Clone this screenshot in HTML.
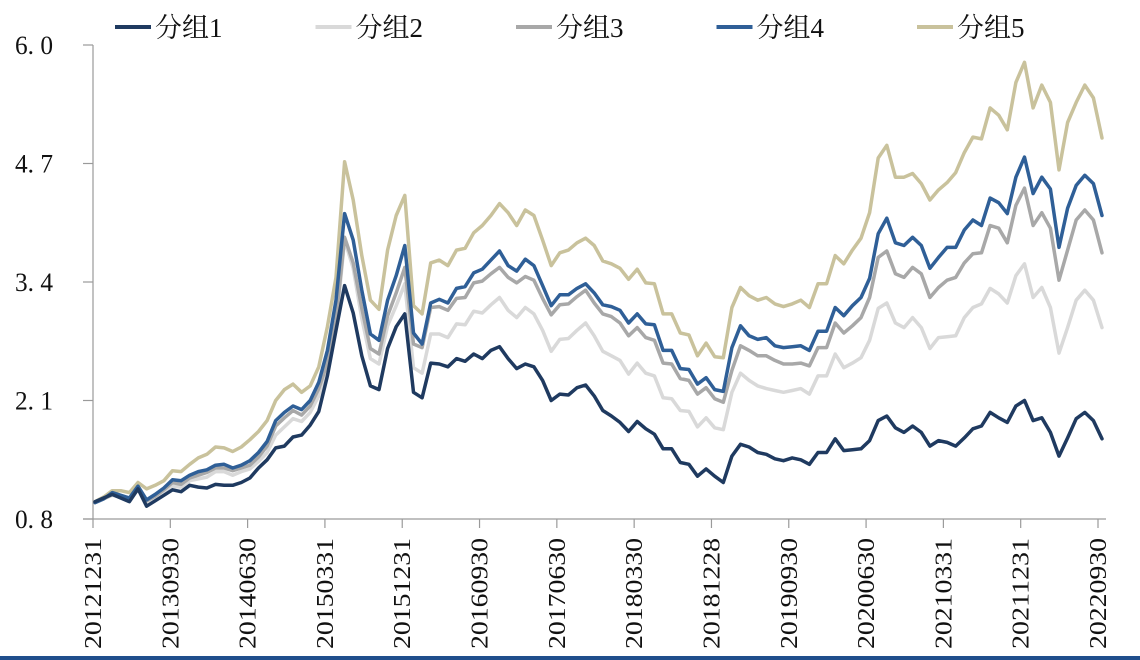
<!DOCTYPE html>
<html><head><meta charset="utf-8"><style>
html,body{margin:0;padding:0;background:#fff;}
svg{display:block;}
</style></head><body>
<svg id="chart" width="1140" height="660" viewBox="0 0 1140 660" xmlns="http://www.w3.org/2000/svg">
<rect x="0" y="0" width="1140" height="660" fill="#fff"/>
<line x1="0" y1="658" x2="1140" y2="658" stroke="#1f4e8c" stroke-width="4"/>
<g id="axes"></g>
<g id="series"></g>
<g id="legend"></g>
</svg>
<script>
const yTicks = [0.8, 2.1, 3.4, 4.7, 6.0];
const yTickLabels = ["0. 8", "2. 1", "3. 4", "4. 7", "6. 0"];
const xTickLabels = ["20121231","20130930","20140630","20150331","20151231","20160930","20170630","20180330","20181228","20190930","20200630","20210331","20211231","20220930"];
const seriesNames = ["分组1","分组2","分组3","分组4","分组5"];
const group1 = [0.99,1.03,1.07,1.03,0.99,1.13,0.94,1.00,1.06,1.12,1.10,1.17,1.15,1.14,1.18,1.17,1.17,1.20,1.25,1.36,1.45,1.58,1.60,1.70,1.72,1.83,1.98,2.37,2.87,3.36,3.06,2.59,2.26,2.22,2.67,2.91,3.05,2.19,2.13,2.51,2.50,2.47,2.56,2.53,2.61,2.56,2.65,2.69,2.56,2.45,2.50,2.47,2.32,2.10,2.17,2.16,2.24,2.27,2.15,1.99,1.93,1.86,1.76,1.87,1.79,1.73,1.57,1.57,1.42,1.40,1.27,1.35,1.27,1.20,1.49,1.62,1.59,1.53,1.51,1.46,1.44,1.47,1.45,1.40,1.53,1.53,1.68,1.55,1.56,1.57,1.66,1.88,1.93,1.80,1.75,1.82,1.75,1.60,1.66,1.64,1.60,1.69,1.79,1.82,1.97,1.91,1.86,2.04,2.10,1.88,1.91,1.75,1.49,1.69,1.90,1.97,1.88,1.68];
const group2 = [0.98,1.02,1.06,1.04,1.01,1.12,0.98,1.03,1.10,1.16,1.15,1.22,1.24,1.26,1.32,1.32,1.28,1.32,1.35,1.43,1.53,1.72,1.81,1.90,1.87,1.97,2.15,2.45,2.92,3.86,3.55,3.00,2.56,2.50,2.92,3.14,3.38,2.46,2.40,2.83,2.83,2.79,2.94,2.93,3.08,3.06,3.15,3.23,3.09,3.01,3.12,3.05,2.87,2.64,2.77,2.78,2.87,2.95,2.81,2.64,2.59,2.54,2.39,2.51,2.40,2.37,2.13,2.12,1.99,1.98,1.81,1.91,1.80,1.78,2.19,2.40,2.32,2.26,2.23,2.21,2.19,2.21,2.23,2.17,2.37,2.37,2.61,2.46,2.51,2.57,2.76,3.11,3.17,2.95,2.90,3.01,2.90,2.67,2.79,2.80,2.81,3.01,3.12,3.16,3.33,3.27,3.17,3.47,3.60,3.23,3.34,3.12,2.62,2.90,3.20,3.31,3.20,2.90];
const group3 = [0.98,1.02,1.07,1.05,1.02,1.14,1.00,1.05,1.12,1.20,1.18,1.25,1.28,1.31,1.36,1.36,1.33,1.36,1.39,1.48,1.60,1.82,1.91,1.99,1.94,2.04,2.23,2.51,2.98,3.89,3.61,3.11,2.67,2.61,3.03,3.28,3.56,2.72,2.68,3.12,3.13,3.09,3.22,3.23,3.39,3.41,3.49,3.56,3.45,3.39,3.46,3.42,3.22,3.04,3.15,3.16,3.24,3.31,3.17,3.05,3.02,2.95,2.81,2.90,2.79,2.76,2.51,2.50,2.34,2.32,2.17,2.24,2.12,2.08,2.43,2.70,2.65,2.59,2.59,2.54,2.50,2.50,2.51,2.48,2.68,2.68,2.95,2.84,2.92,3.01,3.23,3.67,3.74,3.49,3.45,3.56,3.49,3.23,3.34,3.42,3.45,3.61,3.71,3.72,4.02,3.99,3.83,4.24,4.43,4.02,4.16,3.99,3.42,3.75,4.08,4.19,4.08,3.72];
const group4 = [0.98,1.02,1.09,1.06,1.03,1.16,1.01,1.07,1.14,1.23,1.22,1.28,1.32,1.34,1.39,1.40,1.36,1.39,1.44,1.53,1.65,1.88,1.97,2.04,2.00,2.10,2.30,2.65,3.20,4.15,3.86,3.31,2.83,2.76,3.20,3.47,3.80,2.84,2.72,3.17,3.21,3.17,3.33,3.35,3.50,3.54,3.64,3.74,3.58,3.52,3.65,3.58,3.36,3.14,3.26,3.26,3.33,3.38,3.28,3.15,3.13,3.09,2.95,3.05,2.94,2.93,2.65,2.65,2.45,2.44,2.28,2.35,2.22,2.20,2.68,2.92,2.81,2.77,2.79,2.70,2.68,2.69,2.70,2.65,2.86,2.86,3.12,3.03,3.14,3.23,3.44,3.93,4.10,3.83,3.80,3.89,3.80,3.55,3.67,3.78,3.78,3.97,4.08,4.02,4.32,4.27,4.15,4.55,4.77,4.37,4.55,4.42,3.78,4.21,4.46,4.57,4.48,4.13];
const group5 = [0.99,1.04,1.11,1.11,1.09,1.20,1.13,1.17,1.22,1.33,1.32,1.40,1.47,1.51,1.59,1.58,1.54,1.59,1.67,1.76,1.88,2.10,2.22,2.28,2.19,2.26,2.47,2.91,3.45,4.72,4.30,3.69,3.20,3.10,3.75,4.13,4.35,3.14,3.05,3.61,3.64,3.58,3.75,3.77,3.94,4.02,4.13,4.26,4.16,4.02,4.19,4.13,3.86,3.58,3.72,3.75,3.83,3.88,3.80,3.63,3.60,3.55,3.43,3.54,3.39,3.38,3.05,3.05,2.84,2.82,2.59,2.73,2.58,2.57,3.12,3.34,3.25,3.20,3.23,3.16,3.13,3.16,3.20,3.12,3.38,3.38,3.69,3.60,3.75,3.88,4.16,4.76,4.90,4.55,4.55,4.59,4.48,4.30,4.41,4.49,4.60,4.82,4.99,4.97,5.31,5.23,5.07,5.59,5.81,5.31,5.56,5.37,4.63,5.15,5.37,5.56,5.42,4.98];

const NS = "http://www.w3.org/2000/svg";
const X0 = 93, XT = 1098, YMIN = 0.8, YMAX = 6.0, PY0 = 519, PY1 = 45;
const nMonths = group1.length - 1;
function xPos(i){ return 95 + i * (1102 - 95) / nMonths; }
function xTick(k){ return X0 + k * (XT - X0) / (xTickLabels.length - 1); }
function yPos(v){ return PY0 - (v - YMIN) / (YMAX - YMIN) * (PY0 - PY1); }
function mk(tag, attrs, parent){ const e = document.createElementNS(NS, tag); for (const k in attrs) e.setAttribute(k, attrs[k]); parent.appendChild(e); return e; }

const axes = document.getElementById('axes');
let l = mk('line', {x1:X0, y1:PY1, x2:X0, y2:PY0, stroke:'#9a9a9a', 'stroke-width':1.2}, axes);


l = mk('line', {x1:83, y1:PY0, x2:1106, y2:PY0, stroke:'#9a9a9a', 'stroke-width':1.2}, axes);


yTicks.forEach((v, k) => {
  const y = yPos(v);
  const t = mk('line', {x1:83, y1:y, x2:X0, y2:y, stroke:'#9a9a9a', 'stroke-width':1.2}, axes);
  
  
  const tx = mk('text', {x:15, y:y + 9, 'font-size':26, 'font-family':'"Liberation Serif", serif', fill:'#111', textLength:38, lengthAdjust:'spacingAndGlyphs'}, axes);
  tx.textContent = yTickLabels[k];
  
  
});
xTickLabels.forEach((lab, k) => {
  const x = xTick(k);
  const t = mk('line', {x1:x, y1:PY0, x2:x, y2:528, stroke:'#9a9a9a', 'stroke-width':1.2}, axes);
  
  
  const tx = mk('text', {x:0, y:0, 'font-size':24, 'font-family':'"Liberation Serif", serif', fill:'#111', textLength:111, lengthAdjust:'spacingAndGlyphs', transform:'translate(' + (x + 8) + ',649) rotate(-90)'}, axes);
  tx.textContent = lab;
  
  
});

const colors = ['#1f3a60', '#d9d9d9', '#a8a8a8', '#2f5f97', '#c9c29c'];
const allSeries = [group1, group2, group3, group4, group5];
const sg = document.getElementById('series');
[1, 2, 4, 3, 0].forEach(s => {
  const d = allSeries[s].map((v, i) => (i ? 'L' : 'M') + xPos(i).toFixed(1) + ' ' + yPos(v).toFixed(1)).join(' ');
  const p = mk('path', {d:d, fill:'none', stroke:colors[s], 'stroke-width':3.5, 'stroke-linejoin':'round', 'stroke-linecap':'round'}, sg);
  
  
});

const lg = document.getElementById('legend');
seriesNames.forEach((name, s) => {
  const bx = 115 + s * 200.5;
  const g = mk('g', {}, lg);
  
  
  mk('line', {x1:bx, y1:27, x2:bx + 36, y2:27, stroke:colors[s], 'stroke-width':4}, g);
  const t = mk('text', {x:bx + 40, y:37, 'font-size':27, 'font-family':'"Liberation Serif", "Noto Serif CJK SC", "Noto Sans CJK SC", serif', fill:'#111'}, g);
  t.textContent = name;
});
</script>
</body></html>
